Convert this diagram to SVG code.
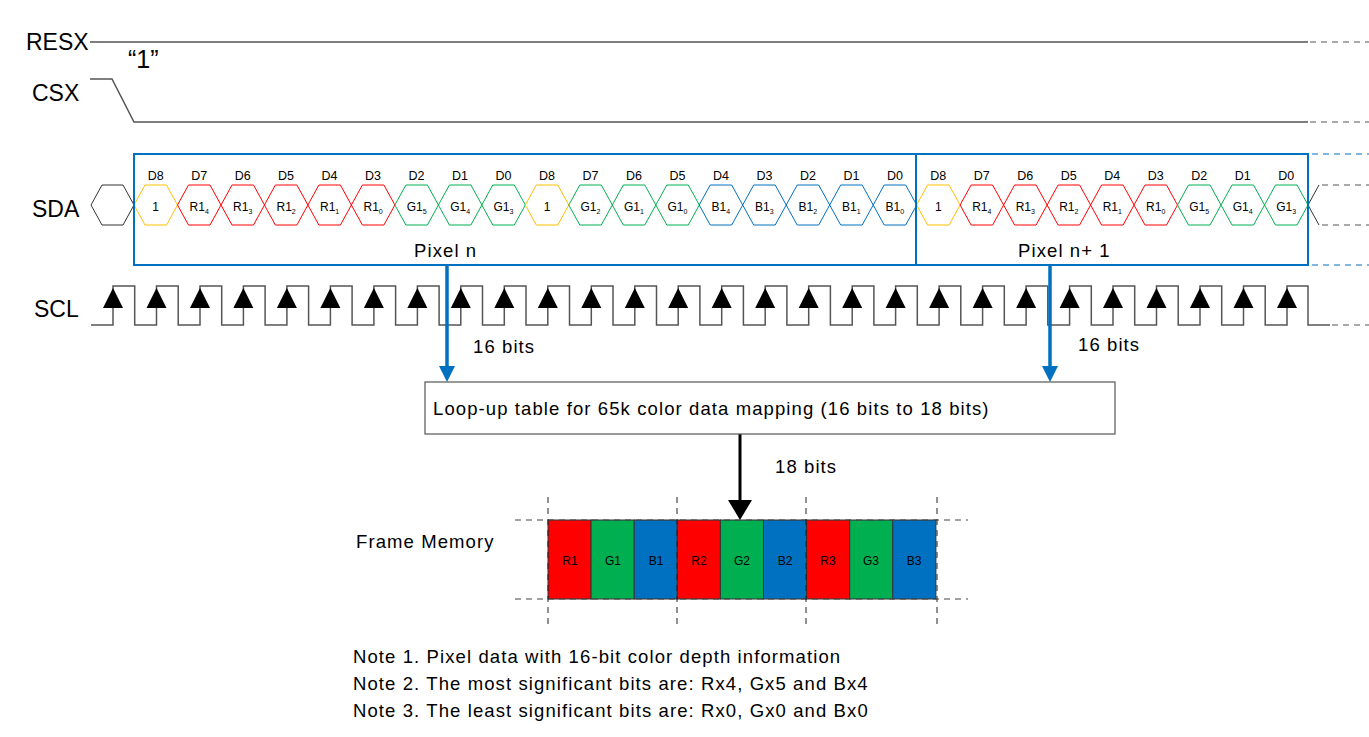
<svg xmlns="http://www.w3.org/2000/svg" xmlns:xlink="http://www.w3.org/1999/xlink" width="1369" height="737" viewBox="0 0 1369 737">
<style>
text{font-family:"Liberation Sans",Arial,sans-serif;fill:#000}
.sig{font-size:23px}
.d{font-size:12.5px;text-anchor:middle}
.v{font-size:12px;text-anchor:middle}
.s{font-size:7px}
.lbl{font-size:18.5px;letter-spacing:1.1px}
.y{stroke:#FFC000;fill:none}.r{stroke:#FF0000;fill:none}.g{stroke:#00B050;fill:none}.b{stroke:#0070C0;fill:none}
.ln{stroke:#555;stroke-width:1.5;fill:none}
.dash{stroke:#555;stroke-width:1.2;stroke-dasharray:6 5;fill:none}
.box{stroke:#0070C0;stroke-width:2;fill:none}
.cell{stroke:#333;stroke-width:1}
.ct{font-size:12px;text-anchor:middle}
</style>
<defs>
<path id="hx" d="M0,20 L11,0 L32.5,0 L43.5,20 L32.5,40 L11,40 Z"/>
<path id="ar" d="M-10,308 L0,288 L10,308 Z" fill="#000"/>
</defs>
<g id="labels">
<text class="sig" x="26" y="50">RESX</text>
<text class="sig" x="32" y="101">CSX</text>
<text class="sig" x="32" y="217">SDA</text>
<text class="sig" x="34" y="317">SCL</text>
<text x="128" y="68" font-size="25px">“1”</text>
</g>
<g id="connectors">
<path class="ln" d="M90,42 H1308"/>
<path class="dash" d="M1310,42 H1369"/>
<path class="ln" d="M90,79 H112 L134,122 H1308"/>
<path class="dash" d="M1310,122 H1369"/>
<path d="M91,205 L102,185 H123 L134,205 L123,225 H102 Z" stroke="#333" fill="none"/>
<path d="M1308,205 L1319,185 M1308,205 L1319,225" stroke="#333" fill="none"/>
<path class="dash" d="M1322,185 H1369 M1322,225 H1369"/>
<path class="dash" d="M1312,154 H1369 M1312,265 H1369" style="stroke:#0070C0"/>
<path class="ln" d="M91,325 H113 V286 H134.7 V325 H156.5 V286 H178.2 V325 H200 V286 H221.7 V325 H243.4 V286 H265.1 V325 H286.9 V286 H308.6 V325 H330.4 V286 H352.1 V325 H373.9 V286 H395.6 V325 H417.4 V286 H439.1 V325 H460.8 V286 H482.5 V325 H504.3 V286 H526 V325 H547.8 V286 H569.5 V325 H591.3 V286 H613 V325 H634.8 V286 H656.5 V325 H678.2 V286 H699.9 V325 H721.7 V286 H743.4 V325 H765.2 V286 H786.9 V325 H808.7 V286 H830.4 V325 H852.2 V286 H873.9 V325 H895.6 V286 H917.3 V325 H939.1 V286 H960.8 V325 H982.6 V286 H1004.3 V325 H1026.1 V286 H1047.8 V325 H1069.6 V286 H1091.3 V325 H1113 V286 H1134.7 V325 H1156.5 V286 H1178.2 V325 H1200 V286 H1221.7 V325 H1243.5 V286 H1265.2 V325 H1287 V286 H1308 V325 H1330"/>
<path class="dash" d="M1332,325 H1369"/>
<g>
<use href="#ar" x="113"/><use href="#ar" x="156.5"/><use href="#ar" x="200"/><use href="#ar" x="243.4"/><use href="#ar" x="286.9"/><use href="#ar" x="330.4"/><use href="#ar" x="373.9"/><use href="#ar" x="417.4"/><use href="#ar" x="460.8"/><use href="#ar" x="504.3"/><use href="#ar" x="547.8"/><use href="#ar" x="591.3"/><use href="#ar" x="634.8"/><use href="#ar" x="678.2"/><use href="#ar" x="721.7"/><use href="#ar" x="765.2"/><use href="#ar" x="808.7"/><use href="#ar" x="852.2"/><use href="#ar" x="895.6"/><use href="#ar" x="939.1"/><use href="#ar" x="982.6"/><use href="#ar" x="1026.1"/><use href="#ar" x="1069.6"/><use href="#ar" x="1113"/><use href="#ar" x="1156.5"/><use href="#ar" x="1200"/><use href="#ar" x="1243.5"/><use href="#ar" x="1287"/>
</g>
<path d="M447,265 V374" stroke="#0070C0" stroke-width="3.5"/>
<path d="M439,366 L455,366 L447,382 Z" fill="#0070C0"/>
<path d="M1050,265 V374" stroke="#0070C0" stroke-width="3.5"/>
<path d="M1042,366 L1058,366 L1050,382 Z" fill="#0070C0"/>
<path d="M740,434 V505" stroke="#000" stroke-width="3"/>
<path d="M728,500 L752,500 L740,520 Z" fill="#000"/>
</g>
<g id="sda">
<use href="#hx" x="134" y="185" class="y"/><use href="#hx" x="177.5" y="185" class="r"/><use href="#hx" x="221" y="185" class="r"/><use href="#hx" x="264.4" y="185" class="r"/><use href="#hx" x="307.9" y="185" class="r"/><use href="#hx" x="351.4" y="185" class="r"/><use href="#hx" x="394.9" y="185" class="g"/><use href="#hx" x="438.4" y="185" class="g"/><use href="#hx" x="481.8" y="185" class="g"/>
<use href="#hx" x="525.3" y="185" class="y"/><use href="#hx" x="568.8" y="185" class="g"/><use href="#hx" x="612.3" y="185" class="g"/><use href="#hx" x="655.8" y="185" class="g"/><use href="#hx" x="699.2" y="185" class="b"/><use href="#hx" x="742.7" y="185" class="b"/><use href="#hx" x="786.2" y="185" class="b"/><use href="#hx" x="829.7" y="185" class="b"/><use href="#hx" x="873.2" y="185" class="b"/>
<use href="#hx" x="916.6" y="185" class="y"/><use href="#hx" x="960.1" y="185" class="r"/><use href="#hx" x="1003.6" y="185" class="r"/><use href="#hx" x="1047.1" y="185" class="r"/><use href="#hx" x="1090.6" y="185" class="r"/><use href="#hx" x="1134" y="185" class="r"/><use href="#hx" x="1177.5" y="185" class="g"/><use href="#hx" x="1221" y="185" class="g"/><use href="#hx" x="1264.5" y="185" class="g"/>
<g class="dlab">
<text class="d" x="155.7" y="180">D8</text><text class="d" x="199.2" y="180">D7</text><text class="d" x="242.7" y="180">D6</text><text class="d" x="286.1" y="180">D5</text><text class="d" x="329.6" y="180">D4</text><text class="d" x="373.1" y="180">D3</text><text class="d" x="416.6" y="180">D2</text><text class="d" x="460.1" y="180">D1</text><text class="d" x="503.5" y="180">D0</text>
<text class="d" x="547" y="180">D8</text><text class="d" x="590.5" y="180">D7</text><text class="d" x="634" y="180">D6</text><text class="d" x="677.5" y="180">D5</text><text class="d" x="720.9" y="180">D4</text><text class="d" x="764.4" y="180">D3</text><text class="d" x="807.9" y="180">D2</text><text class="d" x="851.4" y="180">D1</text><text class="d" x="894.9" y="180">D0</text>
<text class="d" x="938.3" y="180">D8</text><text class="d" x="981.8" y="180">D7</text><text class="d" x="1025.3" y="180">D6</text><text class="d" x="1068.8" y="180">D5</text><text class="d" x="1112.3" y="180">D4</text><text class="d" x="1155.7" y="180">D3</text><text class="d" x="1199.2" y="180">D2</text><text class="d" x="1242.7" y="180">D1</text><text class="d" x="1286.2" y="180">D0</text>
</g>
<g class="vlab">
<text class="v" x="155.7" y="211">1</text>
<text class="v" x="199.2" y="211">R1<tspan class="s" dy="3">4</tspan></text>
<text class="v" x="242.7" y="211">R1<tspan class="s" dy="3">3</tspan></text>
<text class="v" x="286.1" y="211">R1<tspan class="s" dy="3">2</tspan></text>
<text class="v" x="329.6" y="211">R1<tspan class="s" dy="3">1</tspan></text>
<text class="v" x="373.1" y="211">R1<tspan class="s" dy="3">0</tspan></text>
<text class="v" x="416.6" y="211">G1<tspan class="s" dy="3">5</tspan></text>
<text class="v" x="460.1" y="211">G1<tspan class="s" dy="3">4</tspan></text>
<text class="v" x="503.5" y="211">G1<tspan class="s" dy="3">3</tspan></text>
<text class="v" x="547" y="211">1</text>
<text class="v" x="590.5" y="211">G1<tspan class="s" dy="3">2</tspan></text>
<text class="v" x="634" y="211">G1<tspan class="s" dy="3">1</tspan></text>
<text class="v" x="677.5" y="211">G1<tspan class="s" dy="3">0</tspan></text>
<text class="v" x="720.9" y="211">B1<tspan class="s" dy="3">4</tspan></text>
<text class="v" x="764.4" y="211">B1<tspan class="s" dy="3">3</tspan></text>
<text class="v" x="807.9" y="211">B1<tspan class="s" dy="3">2</tspan></text>
<text class="v" x="851.4" y="211">B1<tspan class="s" dy="3">1</tspan></text>
<text class="v" x="894.9" y="211">B1<tspan class="s" dy="3">0</tspan></text>
<text class="v" x="938.3" y="211">1</text>
<text class="v" x="981.8" y="211">R1<tspan class="s" dy="3">4</tspan></text>
<text class="v" x="1025.3" y="211">R1<tspan class="s" dy="3">3</tspan></text>
<text class="v" x="1068.8" y="211">R1<tspan class="s" dy="3">2</tspan></text>
<text class="v" x="1112.3" y="211">R1<tspan class="s" dy="3">1</tspan></text>
<text class="v" x="1155.7" y="211">R1<tspan class="s" dy="3">0</tspan></text>
<text class="v" x="1199.2" y="211">G1<tspan class="s" dy="3">5</tspan></text>
<text class="v" x="1242.7" y="211">G1<tspan class="s" dy="3">4</tspan></text>
<text class="v" x="1286.2" y="211">G1<tspan class="s" dy="3">3</tspan></text>
</g>
</g>
<g id="pixel-n"><rect class="box" x="134" y="154" width="782" height="111"/><text class="lbl" x="414" y="257">Pixel n</text></g>
<g id="pixel-n1"><rect class="box" x="916" y="154" width="392" height="111"/><text class="lbl" x="1018" y="257">Pixel n+ 1</text></g>
<g id="bits-labels">
<text class="lbl" x="473" y="353">16 bits</text>
<text class="lbl" x="1078" y="351">16 bits</text>
<text class="lbl" x="775" y="473">18 bits</text>
</g>
<g id="lut"><rect x="425" y="382" width="690" height="52" fill="#fff" stroke="#555" stroke-width="1.2"/><text class="lbl" x="433" y="415">Loop-up table for 65k color data mapping (16 bits to 18 bits)</text></g>
<g id="frame-memory">
<text class="lbl" x="356" y="548">Frame Memory</text>
<rect class="cell" x="548" y="520" width="43.1" height="79" fill="#FF0000"/>
<rect class="cell" x="591.1" y="520" width="43.1" height="79" fill="#00B050"/>
<rect class="cell" x="634.2" y="520" width="43.1" height="79" fill="#0070C0"/>
<rect class="cell" x="677.3" y="520" width="43.1" height="79" fill="#FF0000"/>
<rect class="cell" x="720.4" y="520" width="43.1" height="79" fill="#00B050"/>
<rect class="cell" x="763.5" y="520" width="43.1" height="79" fill="#0070C0"/>
<rect class="cell" x="806.6" y="520" width="43.1" height="79" fill="#FF0000"/>
<rect class="cell" x="849.7" y="520" width="43.1" height="79" fill="#00B050"/>
<rect class="cell" x="892.8" y="520" width="43.1" height="79" fill="#0070C0"/>
<text class="ct" x="570" y="565">R1</text><text class="ct" x="613" y="565">G1</text><text class="ct" x="656" y="565">B1</text>
<text class="ct" x="699" y="565">R2</text><text class="ct" x="742" y="565">G2</text><text class="ct" x="785" y="565">B2</text>
<text class="ct" x="828" y="565">R3</text><text class="ct" x="871" y="565">G3</text><text class="ct" x="914" y="565">B3</text>
<path class="dash" d="M515,520 H968 M515,599 H968" style="stroke:#444"/>
<path class="dash" d="M548,497 V627 M677,497 V627 M806,497 V627 M937,497 V627" style="stroke:#222;stroke-width:1"/>
</g>
<g id="notes">
<text class="lbl" x="353" y="663">Note 1. Pixel data with 16-bit color depth information</text>
<text class="lbl" x="353" y="690">Note 2. The most significant bits are: Rx4, Gx5 and Bx4</text>
<text class="lbl" x="353" y="717">Note 3. The least significant bits are: Rx0, Gx0 and Bx0</text>
</g>
</svg>
